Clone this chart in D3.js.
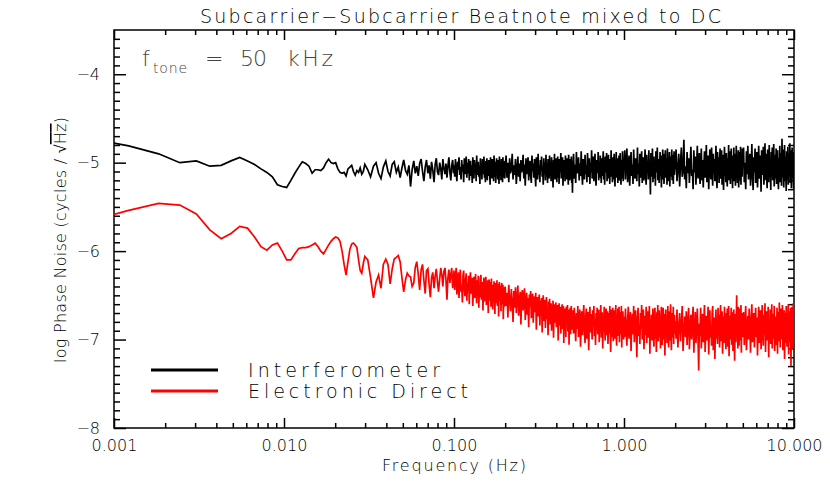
<!DOCTYPE html>
<html>
<head>
<meta charset="utf-8">
<script src="https://cdn.jsdelivr.net/npm/d3@7"></script>
<style>
  body { margin: 0; background: #fff; }
  text { font-family: "DejaVu Sans", sans-serif; font-weight: 200; fill: #000; }
</style>
</head>
<body>
<div id="chart"></div>
<script>
/* Subcarrier-Subcarrier beatnote, phase noise spectra */

// frequency grid (Hz), shared by both spectra
const freqHz = [
  // 0.001 - 0.03
  0.00100, 0.00122, 0.00183, 0.00244, 0.00305, 0.00366, 0.00427, 0.00488, 0.00549, 0.00610,
  0.00671, 0.00732, 0.00793, 0.00854, 0.00915, 0.00976, 0.01037, 0.01098, 0.01159, 0.01220,
  0.01281, 0.01342, 0.01403, 0.01464, 0.01525, 0.01586, 0.01647, 0.01708, 0.01769, 0.01830,
  0.01891, 0.01952, 0.02013, 0.02074, 0.02135, 0.02196, 0.02257, 0.02318, 0.02379, 0.02440,
  0.02501, 0.02562, 0.02623, 0.02684, 0.02745, 0.02806, 0.02867, 0.02928, 0.02989, 0.03050,
  // 0.03 - 0.1
  0.0311, 0.0323, 0.0336, 0.0348, 0.0360, 0.0372, 0.0384, 0.0397, 0.0409, 0.0421,
  0.0433, 0.0445, 0.0458, 0.0470, 0.0482, 0.0494, 0.0506, 0.0519, 0.0531, 0.0543,
  0.0555, 0.0567, 0.0580, 0.0592, 0.0604, 0.0616, 0.0628, 0.0641, 0.0653, 0.0665,
  0.0677, 0.0689, 0.0702, 0.0714, 0.0726, 0.0738, 0.0750, 0.0763, 0.0775, 0.0787,
  0.0799, 0.0811, 0.0824, 0.0836, 0.0848, 0.0860, 0.0872, 0.0885, 0.0897, 0.0909,
  0.0921, 0.0933, 0.0946, 0.0958, 0.0970, 0.0982, 0.0994,
  // 0.1 - 0.2
  0.100,0.101,0.102,0.103,0.104,0.105,0.106,0.107,0.108,0.109,
  0.110,0.111,0.112,0.113,0.114,0.115,0.116,0.117,0.118,0.119,
  0.120,0.121,0.122,0.123,0.124,0.125,0.126,0.127,0.128,0.129,
  0.130,0.131,0.132,0.133,0.134,0.135,0.136,0.137,0.138,0.139,
  0.140,0.141,0.142,0.143,0.144,0.145,0.146,0.147,0.148,0.149,
  0.150,0.151,0.152,0.153,0.154,0.155,0.156,0.157,0.158,0.159,
  0.160,0.161,0.162,0.163,0.164,0.165,0.166,0.167,0.168,0.169,
  0.170,0.171,0.172,0.173,0.174,0.175,0.176,0.177,0.178,0.179,
  0.180,0.181,0.182,0.183,0.184,0.185,0.186,0.187,0.188,0.189,
  0.190,0.191,0.192,0.193,0.194,0.195,0.196,0.197,0.198,0.199,
  // 0.2 - 0.5
  0.2000,0.2025,0.2050,0.2075,0.2100,0.2125,0.2150,0.2175,0.2200,0.2225,
  0.2250,0.2275,0.2300,0.2325,0.2350,0.2375,0.2400,0.2425,0.2450,0.2475,
  0.2500,0.2525,0.2550,0.2575,0.2600,0.2625,0.2650,0.2675,0.2700,0.2725,
  0.2750,0.2775,0.2800,0.2825,0.2850,0.2875,0.2900,0.2925,0.2950,0.2975,
  0.3000,0.3025,0.3050,0.3075,0.3100,0.3125,0.3150,0.3175,0.3200,0.3225,
  0.3250,0.3275,0.3300,0.3325,0.3350,0.3375,0.3400,0.3425,0.3450,0.3475,
  0.3500,0.3525,0.3550,0.3575,0.3600,0.3625,0.3650,0.3675,0.3700,0.3725,
  0.3750,0.3775,0.3800,0.3825,0.3850,0.3875,0.3900,0.3925,0.3950,0.3975,
  0.4000,0.4025,0.4050,0.4075,0.4100,0.4125,0.4150,0.4175,0.4200,0.4225,
  0.4250,0.4275,0.4300,0.4325,0.4350,0.4375,0.4400,0.4425,0.4450,0.4475,
  0.4500,0.4525,0.4550,0.4575,0.4600,0.4625,0.4650,0.4675,0.4700,0.4725,
  0.4750,0.4775,0.4800,0.4825,0.4850,0.4875,0.4900,0.4925,0.4950,0.4975,
  // 0.5 - 1
  0.500,0.505,0.510,0.515,0.520,0.525,0.530,0.535,0.540,0.545,
  0.550,0.555,0.560,0.565,0.570,0.575,0.580,0.585,0.590,0.595,
  0.600,0.605,0.610,0.615,0.620,0.625,0.630,0.635,0.640,0.645,
  0.650,0.655,0.660,0.665,0.670,0.675,0.680,0.685,0.690,0.695,
  0.700,0.705,0.710,0.715,0.720,0.725,0.730,0.735,0.740,0.745,
  0.750,0.755,0.760,0.765,0.770,0.775,0.780,0.785,0.790,0.795,
  0.800,0.805,0.810,0.815,0.820,0.825,0.830,0.835,0.840,0.845,
  0.850,0.855,0.860,0.865,0.870,0.875,0.880,0.885,0.890,0.895,
  0.900,0.905,0.910,0.915,0.920,0.925,0.930,0.935,0.940,0.945,
  0.950,0.955,0.960,0.965,0.970,0.975,0.980,0.985,0.990,0.995,
  // 1 - 2
  1.00,1.01,1.02,1.03,1.04,1.05,1.06,1.07,1.08,1.09,
  1.10,1.11,1.12,1.13,1.14,1.15,1.16,1.17,1.18,1.19,
  1.20,1.21,1.22,1.23,1.24,1.25,1.26,1.27,1.28,1.29,
  1.30,1.31,1.32,1.33,1.34,1.35,1.36,1.37,1.38,1.39,
  1.40,1.41,1.42,1.43,1.44,1.45,1.46,1.47,1.48,1.49,
  1.50,1.51,1.52,1.53,1.54,1.55,1.56,1.57,1.58,1.59,
  1.60,1.61,1.62,1.63,1.64,1.65,1.66,1.67,1.68,1.69,
  1.70,1.71,1.72,1.73,1.74,1.75,1.76,1.77,1.78,1.79,
  1.80,1.81,1.82,1.83,1.84,1.85,1.86,1.87,1.88,1.89,
  1.90,1.91,1.92,1.93,1.94,1.95,1.96,1.97,1.98,1.99,
  // 2 - 5
  2.000,2.025,2.050,2.075,2.100,2.125,2.150,2.175,2.200,2.225,
  2.250,2.275,2.300,2.325,2.350,2.375,2.400,2.425,2.450,2.475,
  2.500,2.525,2.550,2.575,2.600,2.625,2.650,2.675,2.700,2.725,
  2.750,2.775,2.800,2.825,2.850,2.875,2.900,2.925,2.950,2.975,
  3.000,3.025,3.050,3.075,3.100,3.125,3.150,3.175,3.200,3.225,
  3.250,3.275,3.300,3.325,3.350,3.375,3.400,3.425,3.450,3.475,
  3.500,3.525,3.550,3.575,3.600,3.625,3.650,3.675,3.700,3.725,
  3.750,3.775,3.800,3.825,3.850,3.875,3.900,3.925,3.950,3.975,
  4.000,4.025,4.050,4.075,4.100,4.125,4.150,4.175,4.200,4.225,
  4.250,4.275,4.300,4.325,4.350,4.375,4.400,4.425,4.450,4.475,
  4.500,4.525,4.550,4.575,4.600,4.625,4.650,4.675,4.700,4.725,
  4.750,4.775,4.800,4.825,4.850,4.875,4.900,4.925,4.950,4.975,
  // 5 - 10
  5.00,5.05,5.10,5.15,5.20,5.25,5.30,5.35,5.40,5.45,
  5.50,5.55,5.60,5.65,5.70,5.75,5.80,5.85,5.90,5.95,
  6.00,6.05,6.10,6.15,6.20,6.25,6.30,6.35,6.40,6.45,
  6.50,6.55,6.60,6.65,6.70,6.75,6.80,6.85,6.90,6.95,
  7.00,7.05,7.10,7.15,7.20,7.25,7.30,7.35,7.40,7.45,
  7.50,7.55,7.60,7.65,7.70,7.75,7.80,7.85,7.90,7.95,
  8.00,8.05,8.10,8.15,8.20,8.25,8.30,8.35,8.40,8.45,
  8.50,8.55,8.60,8.65,8.70,8.75,8.80,8.85,8.90,8.95,
  9.00,9.05,9.10,9.15,9.20,9.25,9.30,9.35,9.40,9.45,
  9.50,9.55,9.60,9.65,9.70,9.75,9.80,9.85,9.90,9.95,
  10.00
];

// log10 phase noise, Interferometer (black)
const interferometer = [
  // 0.001 - 0.03
  -4.78,-4.81,-4.90,-5.00,-4.98,-5.04,-5.03,-4.98,-4.94,-4.98,
  -5.02,-5.07,-5.11,-5.16,-5.25,-5.27,-5.28,-5.20,-5.12,-5.05,
  -4.99,-5.01,-5.04,-5.12,-5.08,-5.08,-5.09,-5.06,-5.00,-4.96,
  -5.00,-5.01,-5.00,-5.07,-5.11,-5.12,-5.11,-5.15,-5.07,-5.05,
  -5.03,-5.10,-5.14,-5.09,-5.11,-5.06,-5.13,-5.10,-5.02,-5.05,
  // 0.03 - 0.1
  -5.08,-5.16,-5.04,-5.00,-5.12,-5.18,-5.05,-4.98,-5.10,-5.15,
  -5.02,-4.99,-5.11,-5.05,-5.17,-5.06,-4.97,-5.09,-5.13,-5.03,
  -5.27,-5.08,-4.98,-5.12,-5.04,-5.15,-5.01,-4.96,-5.10,-5.21,
  -5.05,-4.97,-5.12,-5.03,-5.18,-4.99,-5.08,-5.22,-5.02,-4.95,
  -5.10,-5.14,-5.00,-5.07,-5.19,-4.96,-5.06,-5.13,-5.01,-5.17,
  -5.04,-4.94,-5.11,-5.20,-5.03,-4.97,-5.12,
  // 0.1 - 0.2
  -5.03,-5.16,-4.96,-5.11,-5.21,-4.99,-5.08,-4.94,-5.14,-5.05,
  -5.19,-4.97,-5.10,-5.02,-5.22,-4.95,-5.13,-5.06,-4.93,-5.17,
  -5.00,-5.12,-4.96,-5.20,-5.07,-4.98,-5.15,-5.03,-5.23,-4.94,
  -5.09,-5.18,-4.97,-5.11,-5.01,-5.21,-4.92,-5.14,-5.06,-4.99,
  -5.16,-5.04,-5.24,-4.95,-5.10,-5.02,-5.19,-4.96,-5.13,-5.08,
  -4.93,-5.17,-5.05,-5.22,-4.98,-5.12,-4.95,-5.20,-5.03,-5.10,
  -4.97,-5.15,-5.07,-5.25,-4.94,-5.11,-5.01,-5.18,-4.96,-5.14,
  -5.04,-5.21,-4.92,-5.09,-5.16,-4.99,-5.23,-5.06,-4.95,-5.13,
  -5.02,-5.19,-4.97,-5.10,-5.24,-4.93,-5.08,-5.15,-5.00,-5.20,
  -4.96,-5.12,-5.05,-5.22,-4.94,-5.17,-5.03,-5.11,-4.98,-5.18,
  // 0.2 - 0.5
  -5.05,-4.92,-5.17,-5.00,-5.22,-4.95,-5.12,-5.07,-4.90,-5.19,
  -5.03,-5.14,-4.96,-5.24,-5.09,-4.93,-5.16,-5.01,-5.21,-4.97,
  -5.11,-5.06,-4.91,-5.18,-5.02,-5.26,-4.95,-5.13,-5.08,-4.94,
  -5.20,-5.04,-4.98,-5.15,-5.23,-4.92,-5.10,-5.01,-5.17,-4.96,
  -5.12,-5.27,-4.94,-5.07,-5.19,-4.90,-5.14,-5.03,-5.22,-4.97,
  -5.09,-4.93,-5.16,-5.05,-5.25,-4.95,-5.11,-5.00,-5.20,-4.91,
  -5.13,-5.04,-5.23,-4.96,-5.08,-5.18,-4.92,-5.15,-5.02,-5.21,
  -4.94,-5.10,-5.06,-5.28,-4.97,-5.14,-4.90,-5.19,-5.03,-5.12,
  -4.95,-5.22,-5.07,-4.93,-5.17,-5.01,-5.24,-4.96,-5.11,-5.05,
  -4.89,-5.18,-5.03,-5.13,-4.94,-5.26,-5.08,-4.97,-5.15,-5.00,
  -5.21,-4.92,-5.10,-5.06,-5.19,-4.95,-5.14,-5.02,-5.25,-4.91,
  -5.12,-5.04,-5.20,-4.96,-5.09,-5.17,-4.93,-5.23,-5.01,-5.34,
  // 0.5 - 1
  -5.06,-4.90,-5.18,-5.02,-5.23,-4.88,-5.12,-5.07,-4.94,-5.20,
  -5.01,-5.15,-4.87,-5.10,-5.25,-4.96,-5.05,-5.19,-4.91,-5.13,
  -5.03,-5.22,-4.89,-5.09,-5.16,-4.95,-5.24,-5.00,-5.11,-4.86,
  -5.18,-5.04,-4.93,-5.21,-5.08,-4.90,-5.14,-5.26,-4.97,-5.06,
  -5.12,-4.88,-5.20,-5.02,-5.17,-4.92,-5.09,-5.23,-4.95,-5.15,
  -5.00,-4.87,-5.19,-5.07,-5.25,-4.93,-5.11,-5.04,-4.89,-5.21,
  -5.06,-5.14,-4.91,-5.18,-5.02,-5.24,-4.96,-5.10,-4.86,-5.16,
  -5.03,-5.22,-4.94,-5.08,-5.19,-4.90,-5.13,-5.27,-4.98,-5.05,
  -4.88,-5.17,-5.09,-4.95,-5.23,-5.01,-5.14,-4.92,-5.20,-5.06,
  -4.89,-5.12,-5.25,-4.97,-5.07,-5.18,-4.87,-5.11,-5.21,-5.02,
  // 1 - 2
  -5.04,-4.86,-5.19,-5.00,-4.84,-5.22,-5.09,-4.92,-5.26,-5.05,
  -4.88,-5.15,-5.02,-5.24,-4.85,-5.11,-5.18,-4.95,-5.07,-5.21,
  -4.83,-5.13,-5.01,-5.27,-4.90,-5.08,-5.17,-4.87,-5.23,-5.03,
  -4.94,-5.20,-5.06,-4.85,-5.14,-5.25,-4.91,-5.10,-4.99,-5.19,
  -4.86,-5.12,-5.02,-5.36,-4.89,-5.16,-5.05,-4.84,-5.22,-5.08,
  -4.93,-5.18,-5.00,-5.26,-4.87,-5.11,-5.04,-4.83,-5.20,-5.14,
  -4.96,-5.23,-5.07,-4.88,-5.15,-5.01,-5.28,-4.92,-5.10,-4.85,
  -5.19,-5.03,-5.24,-4.90,-5.12,-4.86,-5.17,-5.06,-4.95,-5.25,
  -4.84,-5.09,-5.21,-4.97,-5.13,-4.88,-5.27,-5.02,-4.93,-5.16,
  -5.05,-4.85,-5.20,-5.10,-4.91,-5.24,-5.01,-4.87,-5.14,-5.08,
  // 2 - 5
  -5.03,-4.85,-5.21,-5.07,-4.90,-5.27,-5.00,-4.83,-5.16,-5.10,
  -4.74,-5.19,-5.04,-5.29,-4.88,-5.12,-4.95,-5.23,-5.01,-4.82,
  -5.15,-5.08,-5.30,-4.86,-5.11,-4.93,-5.25,-5.02,-4.81,-5.18,
  -5.06,-4.89,-5.24,-5.13,-4.84,-5.20,-4.97,-5.28,-5.05,-4.87,
  -5.17,-5.01,-4.80,-5.22,-5.09,-4.92,-5.30,-5.04,-4.85,-5.14,
  -5.19,-4.83,-5.07,-5.26,-4.90,-5.12,-4.96,-5.21,-5.03,-4.81,
  -5.16,-5.29,-4.88,-5.10,-4.94,-5.23,-5.00,-4.84,-5.18,-5.08,
  -4.86,-5.25,-5.05,-4.91,-5.31,-5.11,-4.82,-5.15,-5.02,-5.22,
  -4.89,-5.13,-5.27,-4.95,-5.07,-4.80,-5.20,-5.04,-4.87,-5.24,
  -5.10,-4.84,-5.17,-5.01,-5.29,-4.92,-5.14,-4.83,-5.21,-5.06,
  -4.90,-5.26,-5.09,-4.81,-5.18,-4.97,-5.23,-5.03,-4.86,-5.28,
  -5.12,-4.88,-5.20,-5.05,-4.82,-5.25,-5.00,-4.93,-5.16,-4.84,
  // 5 - 10
  -5.05,-4.83,-5.22,-5.00,-5.30,-4.87,-5.13,-4.81,-5.19,-5.04,
  -4.90,-5.26,-5.09,-4.79,-5.16,-5.31,-4.94,-5.11,-4.84,-5.23,
  -5.02,-4.88,-5.28,-5.06,-4.81,-5.18,-5.10,-4.92,-5.33,-4.86,
  -5.14,-5.00,-4.82,-5.25,-5.08,-4.78,-5.20,-4.90,-5.12,-5.29,
  -4.85,-5.04,-5.22,-4.80,-5.16,-4.96,-5.31,-4.88,-5.07,-4.83,
  -5.20,-5.03,-4.79,-5.27,-5.10,-4.91,-5.18,-4.84,-5.24,-5.01,
  -4.86,-5.14,-5.30,-4.95,-5.08,-4.81,-5.22,-5.05,-4.89,-5.26,
  -4.73,-5.17,-5.02,-4.85,-5.28,-5.09,-4.80,-5.21,-4.93,-5.12,
  -5.32,-4.87,-5.06,-5.19,-4.82,-5.25,-5.00,-4.90,-5.15,-4.78,
  -5.23,-5.04,-4.86,-5.29,-5.11,-4.83,-5.18,-4.95,-5.07,-5.30,
  -4.88
];

// log10 phase noise, Electronic Direct (red)
const electronicDirect = [
  // 0.001 - 0.03
  -5.585,-5.54,-5.46,-5.48,-5.58,-5.76,-5.86,-5.80,-5.72,-5.74,
  -5.84,-5.95,-5.99,-5.93,-5.91,-6.00,-6.10,-6.10,-6.03,-5.97,
  -5.96,-5.96,-5.95,-5.93,-5.91,-5.95,-6.00,-6.03,-5.98,-5.93,
  -5.89,-5.86,-5.84,-5.85,-5.89,-6.00,-6.15,-6.27,-6.12,-5.98,
  -5.92,-5.91,-5.93,-5.96,-6.10,-6.22,-6.25,-6.14,-6.06,-6.08,
  // 0.03 - 0.1
  -6.10,-6.30,-6.53,-6.35,-6.27,-6.42,-6.15,-6.09,-6.15,-6.37,
  -6.20,-6.09,-6.07,-6.05,-6.12,-6.30,-6.46,-6.32,-6.25,-6.28,
  -6.29,-6.40,-6.36,-6.18,-6.12,-6.26,-6.44,-6.21,-6.15,-6.33,
  -6.48,-6.22,-6.20,-6.38,-6.52,-6.30,-6.24,-6.42,-6.28,-6.20,
  -6.34,-6.46,-6.31,-6.19,-6.27,-6.40,-6.23,-6.19,-6.33,-6.55,
  -6.30,-6.21,-6.36,-6.26,-6.19,-6.42,-6.31,
  // 0.1 - 0.2
  -6.22,-6.44,-6.30,-6.19,-6.49,-6.35,-6.24,-6.53,-6.31,-6.21,
  -6.46,-6.38,-6.58,-6.27,-6.22,-6.43,-6.51,-6.33,-6.25,-6.56,
  -6.36,-6.45,-6.28,-6.60,-6.34,-6.24,-6.48,-6.40,-6.30,-6.62,
  -6.42,-6.29,-6.53,-6.37,-6.26,-6.50,-6.59,-6.33,-6.45,-6.28,
  -6.64,-6.39,-6.52,-6.31,-6.27,-6.55,-6.44,-6.35,-6.67,-6.41,
  -6.30,-6.57,-6.46,-6.36,-6.29,-6.61,-6.43,-6.52,-6.33,-6.70,
  -6.40,-6.32,-6.56,-6.47,-6.35,-6.63,-6.31,-6.50,-6.42,-6.66,
  -6.38,-6.55,-6.34,-6.48,-6.71,-6.40,-6.36,-6.59,-6.45,-6.33,
  -6.62,-6.49,-6.37,-6.74,-6.43,-6.35,-6.57,-6.46,-6.39,-6.68,
  -6.44,-6.36,-6.60,-6.51,-6.38,-6.77,-6.47,-6.41,-6.63,-6.45,
  // 0.2 - 0.5
  -6.40,-6.62,-6.47,-6.75,-6.38,-6.56,-6.68,-6.43,-6.59,-6.80,
  -6.45,-6.64,-6.41,-6.70,-6.52,-6.39,-6.73,-6.58,-6.46,-6.83,
  -6.50,-6.44,-6.67,-6.55,-6.42,-6.78,-6.61,-6.47,-6.72,-6.53,
  -6.86,-6.49,-6.63,-6.45,-6.76,-6.57,-6.48,-6.81,-6.60,-6.51,
  -6.69,-6.47,-6.89,-6.58,-6.52,-6.74,-6.63,-6.49,-6.84,-6.56,
  -6.71,-6.53,-6.92,-6.62,-6.50,-6.79,-6.66,-6.55,-6.87,-6.60,
  -6.52,-6.77,-6.65,-6.95,-6.57,-6.70,-6.54,-6.83,-6.68,-6.59,
  -6.90,-6.62,-6.74,-6.56,-6.98,-6.67,-6.60,-6.81,-6.70,-6.58,
  -6.86,-6.64,-6.76,-6.61,-7.01,-6.69,-6.59,-6.84,-6.73,-6.63,
  -6.93,-6.66,-6.79,-6.60,-6.88,-6.72,-6.62,-7.04,-6.75,-6.65,
  -6.85,-6.68,-6.97,-6.63,-6.80,-6.71,-6.61,-6.91,-6.77,-6.66,
  -7.06,-6.70,-6.83,-6.64,-6.94,-6.74,-6.62,-6.89,-6.78,-6.67,
  // 0.5 - 1
  -6.72,-6.93,-6.64,-6.85,-7.02,-6.70,-6.88,-6.62,-6.97,-6.78,
  -6.66,-7.08,-6.81,-6.68,-6.95,-6.74,-6.61,-6.90,-7.04,-6.76,
  -6.65,-6.99,-6.83,-6.69,-7.12,-6.79,-6.63,-6.92,-6.71,-6.86,
  -7.00,-6.67,-6.84,-6.62,-6.96,-6.77,-7.06,-6.70,-6.89,-6.64,
  -6.94,-6.80,-6.66,-7.03,-6.73,-6.87,-6.61,-6.98,-6.82,-6.69,
  -7.10,-6.75,-6.91,-6.63,-6.86,-7.01,-6.72,-6.65,-6.95,-6.79,
  -6.68,-7.05,-6.84,-6.70,-6.93,-6.62,-6.88,-7.14,-6.76,-6.66,
  -6.97,-6.81,-6.64,-7.02,-6.74,-6.90,-6.67,-6.99,-6.83,-6.61,
  -6.92,-7.07,-6.73,-6.85,-6.65,-6.96,-6.78,-6.63,-7.03,-6.80,
  -6.69,-6.94,-6.87,-6.62,-7.09,-6.75,-6.91,-6.68,-6.84,-7.00,
  // 1 - 2
  -6.74,-6.97,-6.65,-6.89,-7.07,-6.78,-6.63,-6.99,-6.84,-6.69,
  -7.13,-6.86,-6.71,-6.94,-6.62,-7.03,-6.80,-6.67,-6.92,-7.20,
  -6.77,-6.64,-6.96,-6.83,-7.05,-6.70,-6.88,-6.61,-7.00,-6.82,
  -6.66,-7.11,-6.87,-6.73,-6.95,-6.63,-7.04,-6.81,-6.68,-6.98,
  -6.85,-6.62,-7.16,-6.79,-6.91,-6.72,-7.01,-6.86,-6.65,-6.94,
  -7.08,-6.76,-6.64,-6.99,-6.83,-7.14,-6.69,-6.90,-6.61,-7.02,
  -6.80,-6.67,-6.97,-6.85,-7.10,-6.73,-6.63,-6.93,-7.06,-6.78,
  -6.64,-7.00,-6.88,-6.71,-7.18,-6.82,-6.66,-6.96,-6.75,-7.04,
  -6.87,-6.62,-6.92,-7.09,-6.77,-6.68,-7.01,-6.84,-6.60,-6.95,
  -7.12,-6.79,-6.70,-6.98,-6.86,-6.63,-7.05,-6.81,-6.72,-6.93,
  // 2 - 5
  -6.79,-6.99,-6.66,-7.09,-6.86,-6.70,-7.02,-6.83,-6.62,-7.13,
  -6.90,-6.74,-6.97,-6.68,-7.06,-6.81,-6.64,-7.11,-6.88,-6.72,
  -7.00,-6.77,-6.63,-7.15,-6.92,-6.69,-7.04,-6.84,-6.65,-6.96,
  -7.35,-6.82,-6.96,-6.64,-7.10,-6.87,-6.71,-7.03,-6.78,-6.61,
  -7.14,-6.89,-6.73,-7.01,-6.80,-6.63,-7.17,-6.91,-6.67,-6.98,
  -6.85,-7.07,-6.70,-6.62,-7.12,-6.88,-6.75,-7.22,-6.83,-6.66,
  -6.99,-6.79,-7.05,-6.64,-6.93,-6.72,-7.09,-6.86,-6.61,-7.02,
  -6.82,-6.68,-7.16,-6.90,-6.74,-7.04,-6.63,-6.95,-6.80,-7.11,
  -6.70,-6.97,-6.65,-7.08,-6.85,-6.62,-7.19,-6.89,-6.73,-7.00,
  -6.78,-6.64,-7.06,-6.91,-6.69,-7.13,-6.84,-6.66,-6.98,-7.24,
  -6.81,-6.71,-7.03,-6.87,-6.50,-6.94,-6.76,-7.10,-6.63,-6.89,
  -7.07,-6.74,-6.65,-7.01,-6.86,-6.61,-7.15,-6.83,-6.70,-6.97,
  // 5 - 10
  -6.88,-6.69,-7.06,-6.81,-6.62,-7.12,-6.93,-6.73,-7.00,-6.65,
  -6.84,-7.15,-6.77,-6.60,-7.03,-6.90,-6.70,-7.09,-6.83,-6.64,
  -6.97,-6.75,-7.18,-6.86,-6.63,-7.04,-6.79,-6.67,-7.11,-6.92,
  -6.61,-6.85,-7.07,-6.72,-6.94,-6.59,-7.14,-6.82,-6.68,-7.01,
  -6.89,-6.63,-7.20,-6.78,-6.95,-6.66,-7.05,-6.87,-6.60,-7.10,
  -6.80,-6.71,-6.99,-6.62,-7.13,-6.85,-6.74,-7.06,-6.91,-6.64,
  -7.16,-6.83,-6.69,-7.02,-6.58,-6.90,-7.09,-6.76,-6.65,-7.00,
  -6.86,-6.61,-7.12,-6.79,-6.96,-6.67,-7.22,-6.84,-6.70,-7.04,
  -6.62,-6.93,-7.08,-6.75,-6.88,-6.60,-7.17,-6.81,-6.68,-7.03,
  -6.87,-6.64,-7.30,-6.78,-6.97,-6.63,-7.11,-6.85,-6.59,-7.06,
  -6.80
];

const xTickValues = [0.001, 0.01, 0.1, 1, 10];
const xTickLabels = ["0.001", "0.010", "0.100", "1.000", "10.000"];
const yTickValues = [-8, -7, -6, -5, -4];
const yTickLabels = ["\u22128", "\u22127", "\u22126", "\u22125", "\u22124"];

const seriesNames = ["Interferometer", "Electronic Direct"];
const seriesColors = ["#000000", "#ff0000"];

if (interferometer.length !== freqHz.length || electronicDirect.length !== freqHz.length) {
  throw new Error("length mismatch " + freqHz.length + " " + interferometer.length + " " + electronicDirect.length);
}

const width = 830,
      height = 485,
      margin = ({ top: 30, right: 36, bottom: 57, left: 114 });

let svg = d3.select("#chart")
  .append("svg")
  .attr("width", width)
  .attr("height", height);

let x = d3.scaleLog()
  .domain([0.001, 10])
  .range([margin.left, width - margin.right]);

let y = d3.scaleLinear()
  .domain([-8, -3.5])
  .range([height - margin.bottom, margin.top]);

// minor ticks: 2..9 in every decade, 0.1 steps on y
let xMinor = [];
for (let p = -3; p < 1; p++) {
  for (let k = 2; k <= 9; k++) xMinor.push(k * Math.pow(10, p));
}
let yMinor = d3.range(-79, -35).map(d => d / 10).filter(d => !Number.isInteger(d));

const tickStyle = g => {
  g.select(".domain").remove();
  g.selectAll("line").attr("stroke", "#000").attr("stroke-width", 1.5);
  g.selectAll("text")
    .attr("font-family", "DejaVu Sans, sans-serif")
    .attr("font-size", 16)
    .attr("font-weight", 200)
    .attr("fill", "#000");
};

// bottom axis
svg.append("g")
  .attr("transform", `translate(0,${y(-8)})`)
  .call(d3.axisBottom(x).tickValues(xTickValues).tickFormat((d, i) => xTickLabels[i]).tickSize(-10).tickPadding(12))
  .call(tickStyle);
svg.append("g")
  .attr("transform", `translate(0,${y(-8)})`)
  .call(d3.axisBottom(x).tickValues(xMinor).tickFormat("").tickSize(-5))
  .call(tickStyle);

// top axis (ticks only)
svg.append("g")
  .attr("transform", `translate(0,${y(-3.5)})`)
  .call(d3.axisTop(x).tickValues(xTickValues).tickFormat("").tickSize(-10))
  .call(tickStyle);
svg.append("g")
  .attr("transform", `translate(0,${y(-3.5)})`)
  .call(d3.axisTop(x).tickValues(xMinor).tickFormat("").tickSize(-5))
  .call(tickStyle);

// left axis
svg.append("g")
  .attr("transform", `translate(${x(0.001)},0)`)
  .call(d3.axisLeft(y).tickValues(yTickValues).tickFormat((d, i) => yTickLabels[i]).tickSize(-12).tickPadding(14))
  .call(tickStyle);
svg.append("g")
  .attr("transform", `translate(${x(0.001)},0)`)
  .call(d3.axisLeft(y).tickValues(yMinor).tickFormat("").tickSize(-6))
  .call(tickStyle);

// right axis (ticks only)
svg.append("g")
  .attr("transform", `translate(${x(10)},0)`)
  .call(d3.axisRight(y).tickValues(yTickValues).tickFormat("").tickSize(-12))
  .call(tickStyle);
svg.append("g")
  .attr("transform", `translate(${x(10)},0)`)
  .call(d3.axisRight(y).tickValues(yMinor).tickFormat("").tickSize(-6))
  .call(tickStyle);

// frame
svg.append("rect")
  .attr("x", x(0.001))
  .attr("y", y(-3.5))
  .attr("width", x(10) - x(0.001))
  .attr("height", y(-8) - y(-3.5))
  .attr("fill", "none")
  .attr("stroke", "#000")
  .attr("stroke-width", 1.5);

svg.append("clipPath")
  .attr("id", "plot-clip")
  .append("rect")
  .attr("x", x(0.001))
  .attr("y", y(-3.5))
  .attr("width", x(10) - x(0.001))
  .attr("height", y(-8) - y(-3.5));

let line = d3.line()
  .x(d => x(d[0]))
  .y(d => y(d[1]));

[interferometer, electronicDirect].forEach((vals, s) => {
  svg.append("path")
    .datum(d3.zip(freqHz, vals))
    .attr("clip-path", "url(#plot-clip)")
    .attr("fill", "none")
    .attr("stroke", seriesColors[s])
    .attr("stroke-width", 1.7)
    .attr("stroke-linejoin", "miter")
    .attr("d", line);
});

// title
svg.append("text")
  .attr("x", 200)
  .attr("y", 23)
  .attr("font-size", 19)
  .attr("textLength", 521)
  .attr("lengthAdjust", "spacing")
  .text("Subcarrier\u2212Subcarrier Beatnote mixed to DC");

// x label
svg.append("text")
  .attr("x", 382)
  .attr("y", 471)
  .attr("font-size", 16)
  .attr("textLength", 144)
  .attr("lengthAdjust", "spacing")
  .text("Frequency (Hz)");

// y label
let ylab = svg.append("text")
  .attr("transform", "translate(66,363) rotate(-90)")
  .attr("font-size", 16)
  .attr("textLength", 246)
  .attr("lengthAdjust", "spacing");
ylab.append("tspan").text("log Phase Noise (cycles / \u221A");
ylab.append("tspan").style("text-decoration", "overline").text("Hz");
ylab.append("tspan").text(")");

// f_tone annotation
const annColor = "#444";
svg.append("text").attr("x", 142).attr("y", 66).attr("font-size", 22).style("fill", annColor).text("f");
svg.append("text").attr("x", 153).attr("y", 73).attr("font-size", 14)
  .attr("textLength", 34).attr("lengthAdjust", "spacing").style("fill", annColor).text("tone");
svg.append("text").attr("x", 205).attr("y", 66).attr("font-size", 22).style("fill", annColor).text("=");
svg.append("text").attr("x", 240).attr("y", 66).attr("font-size", 22)
  .attr("textLength", 27).attr("lengthAdjust", "spacing").style("fill", annColor).text("50");
svg.append("text").attr("x", 287).attr("y", 66).attr("font-size", 22)
  .attr("textLength", 46).attr("lengthAdjust", "spacing").style("fill", annColor).text("kHz");

// legend
seriesNames.forEach((name, i) => {
  let ly = 370 + i * 21;
  svg.append("line")
    .attr("x1", 151).attr("x2", 218)
    .attr("y1", ly).attr("y2", ly)
    .attr("stroke", seriesColors[i])
    .attr("stroke-width", 3);
  svg.append("text")
    .attr("x", 248)
    .attr("y", ly + 7)
    .attr("font-size", 19)
    .attr("textLength", i === 0 ? 192 : 220)
    .attr("lengthAdjust", "spacing")
    .text(name);
});
</script>
</body>
</html>
